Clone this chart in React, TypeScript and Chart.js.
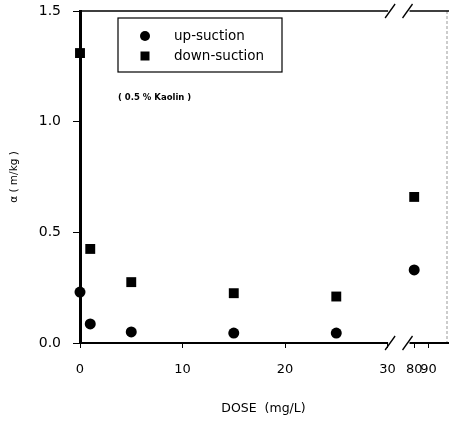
import React, { useEffect, useRef } from "react";
import { Chart, registerables } from "chart.js";

Chart.register(...registerables);

const doses = [0, 1, 5, 15, 25, 80];
const upSuction = [0.23, 0.086, 0.05, 0.045, 0.045, 0.33];
const downSuction = [1.31, 0.425, 0.275, 0.225, 0.21, 0.66];
const xTickDoses = [0, 10, 20, 30, 80, 90];
const yTickValues = [0, 0.5, 1.0, 1.5];
const seriesNames = ["up-suction", "down-suction"];
const annotationText = "( 0.5 % Kaolin )";
const xTitle = "DOSE  (mg/L)";
const yTitle = "α ( m/kg )";

// broken x axis: 0..30 linear, then 80..90 compressed after the break
const BREAK_FROM = 30;
const BREAK_TO = 80;
const BREAK_AXIS = 32.6;
const HI_SCALE = 0.14;
const toAxis = (d: number) => (d <= BREAK_FROM ? d : BREAK_AXIS + (d - BREAK_TO) * HI_SCALE);
const fromAxis = (v: number) => (v <= BREAK_FROM + 0.01 ? v : BREAK_TO + (v - BREAK_AXIS) / HI_SCALE);

const FONT = "'DejaVu Sans', sans-serif";

const framePlugin = {
  id: "frame",
  afterDraw(chart: any) {
    const { ctx, chartArea } = chart;
    const { left, right, top, bottom } = chartArea;
    const xs = chart.scales.x;
    const b1 = xs.getPixelForValue(30.25);
    const b2 = xs.getPixelForValue(31.95);
    ctx.save();
    // right border (faint)
    ctx.lineWidth = 1;
    ctx.strokeStyle = "#999";
    ctx.setLineDash([3, 2]);
    ctx.beginPath();
    ctx.moveTo(right, top);
    ctx.lineTo(right, bottom);
    ctx.stroke();
    ctx.setLineDash([]);
    ctx.strokeStyle = "#000";
    // top and bottom lines with breaks
    const hline = (y: number, w: number) => {
      ctx.lineWidth = w;
      ctx.beginPath();
      ctx.moveTo(left, y);
      ctx.lineTo(b1 - 2, y);
      ctx.moveTo(b2 + 2, y);
      ctx.lineTo(right + 2, y);
      ctx.stroke();
      ctx.lineWidth = 1.3;
      for (const b of [b1, b2]) {
        ctx.beginPath();
        ctx.moveTo(b - 5, y + 7);
        ctx.lineTo(b + 5, y - 7);
        ctx.stroke();
      }
    };
    hline(top, 1.6);
    hline(bottom, 2);

    // legend
    const lx = 118, ly = 18, lw = 164, lh = 54;
    ctx.lineWidth = 1.2;
    ctx.strokeRect(lx, ly, lw, lh);
    ctx.font = `13.5px ${FONT}`;
    ctx.textBaseline = "middle";
    ctx.textAlign = "left";
    ctx.fillStyle = "#000";
    const ds = chart.data.datasets;
    ds.forEach((d: any, i: number) => {
      const y = 36 + i * 20;
      ctx.beginPath();
      if (d.pointStyle === "circle") {
        ctx.arc(145, y, 5, 0, Math.PI * 2);
      } else {
        ctx.rect(140.5, y - 4.5, 9, 9);
      }
      ctx.fill();
      ctx.fillText(d.label, 174, y);
    });

    // annotation
    ctx.font = `bold 8.5px ${FONT}`;
    ctx.fillText(annotationText, 118, 98);
    ctx.restore();
  },
};

export default function App() {
  const ref = useRef<HTMLCanvasElement>(null);
  useEffect(() => {
    if (!ref.current) return;
    const chart = new Chart(ref.current, {
      type: "scatter",
      data: {
        datasets: [
          {
            label: seriesNames[0],
            data: doses.map((d, i) => ({ x: toAxis(d), y: upSuction[i] })),
            pointStyle: "circle",
            pointRadius: 5.5,
            backgroundColor: "#000",
            borderColor: "#000",
            borderWidth: 0,
            clip: false,
          },
          {
            label: seriesNames[1],
            data: doses.map((d, i) => ({ x: toAxis(d), y: downSuction[i] })),
            pointStyle: "rect",
            pointRadius: 7,
            backgroundColor: "#000",
            borderColor: "#000",
            borderWidth: 0,
            clip: false,
          },
        ],
      },
      options: {
        animation: false,
        responsive: false,
        devicePixelRatio: 1,
        layout: { autoPadding: false, padding: { top: 11, right: 2, left: 0, bottom: 0 } },
        plugins: { legend: { display: false }, tooltip: { enabled: false } },
        scales: {
          x: {
            type: "linear",
            min: 0,
            max: 35.8,
            afterFit: (s: any) => {
              s.height = 79;
              s.paddingRight = 0;
              s.paddingLeft = 0;
              s.paddingTop = 0;
              s.paddingBottom = 0;
            },
            afterBuildTicks: (s: any) => {
              s.ticks = xTickDoses.map((d) => ({ value: toAxis(d) }));
            },
            ticks: {
              autoSkip: false,
              maxRotation: 0,
              padding: 14,
              color: "#000",
              font: { family: FONT, size: 13 },
              callback: (v: any) => String(Math.round(fromAxis(Number(v)))),
            },
            grid: { drawOnChartArea: false, tickLength: 5, color: "#000", tickWidth: 1 },
            border: { display: false },
            title: {
              display: true,
              text: xTitle,
              color: "#000",
              font: { family: FONT, size: 12.5 },
              padding: { top: 0, bottom: 6 },
            },
          },
          y: {
            type: "linear",
            min: 0,
            max: 1.5,
            afterFit: (s: any) => {
              s.width = 80;
              s.paddingTop = 0;
              s.paddingBottom = 0;
              s.paddingLeft = 0;
              s.paddingRight = 0;
            },
            afterBuildTicks: (s: any) => {
              s.ticks = yTickValues.map((v) => ({ value: v }));
            },
            ticks: {
              padding: 12,
              color: "#000",
              font: { family: FONT, size: 14 },
              callback: (v: any) => Number(v).toFixed(1),
            },
            grid: { drawOnChartArea: false, tickLength: 7, color: "#000", tickWidth: 1 },
            border: { display: true, color: "#000", width: 3 },
            title: {
              display: true,
              text: yTitle,
              color: "#000",
              font: { family: FONT, size: 10.5 },
              padding: { top: 8, bottom: 0 },
            },
          },
        },
      },
      plugins: [framePlugin],
    } as any);
    return () => chart.destroy();
  }, []);
  return (
    <div style={{ position: "fixed", left: 0, top: 0, width: 449, height: 422, background: "#fff" }}>
      <canvas ref={ref} width={449} height={422} style={{ width: 449, height: 422 }} />
    </div>
  );
}
